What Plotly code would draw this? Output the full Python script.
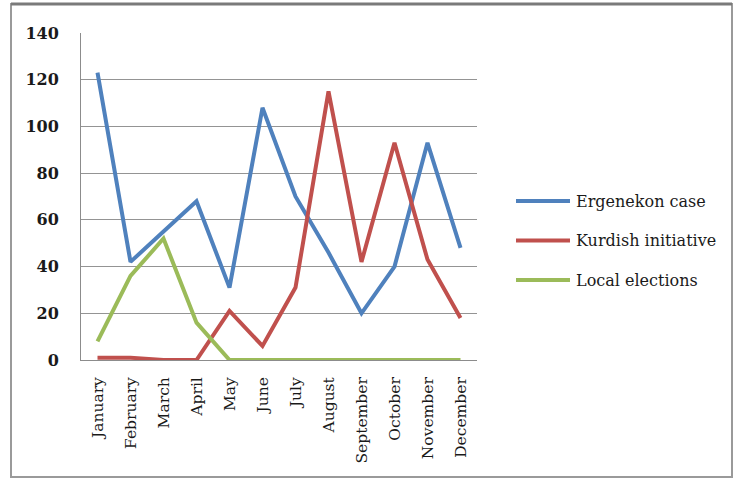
import plotly.graph_objects as go

months = ["January", "February", "March", "April", "May", "June", "July",
          "August", "September", "October", "November", "December"]
ergenekon = [123, 42, 55, 68, 31, 108, 70, 46, 20, 40, 93, 48]
kurdish = [1, 1, 0, 0, 21, 6, 31, 115, 42, 93, 43, 18]
local_elections = [8, 36, 52, 16, 0, 0, 0, 0, 0, 0, 0, 0]
series_names = ["Ergenekon case", "Kurdish initiative", "Local elections"]
series_colors = ["#4F81BD", "#C0504D", "#9BBB59"]
y_ticks = [0, 20, 40, 60, 80, 100, 120, 140]

W, H = 734, 479
ML, MR, MT, MB = 81, 257, 33, 119
PW, PH = W - ML - MR, H - MT - MB


def px_to_paper(x, y):
    return (x - ML) / PW, (H - MB - y) / PH


fig = go.Figure()
for name, vals, col in zip(series_names, [ergenekon, kurdish, local_elections], series_colors):
    fig.add_trace(go.Scatter(x=months, y=vals, mode="lines", name=name,
                             line=dict(color=col, width=4), showlegend=False))

shapes = []
annotations = []
# frame around the whole chart
x0, y0 = px_to_paper(11, 4)
x1, y1 = px_to_paper(732, 477)
shapes.append(dict(type="rect", xref="paper", yref="paper", x0=x0, y0=y1, x1=x1, y1=y0,
                   line=dict(color="#9a9a9a", width=2), layer="below"))
# heavier top edge of the frame
shapes.append(dict(type="line", xref="paper", yref="paper", x0=x0, x1=x1, y0=y0, y1=y0,
                   line=dict(color="#7a7a7a", width=3), layer="below"))

# legend entries
for i, (name, col) in enumerate(zip(series_names, series_colors)):
    cy = 201 + i * 39.5
    lx0, ly = px_to_paper(516, cy)
    lx1, _ = px_to_paper(570, cy)
    shapes.append(dict(type="line", xref="paper", yref="paper", x0=lx0, x1=lx1, y0=ly, y1=ly,
                       line=dict(color=col, width=4)))
    tx, _ = px_to_paper(574, cy)
    annotations.append(dict(text=name, xref="paper", yref="paper", x=tx, y=ly,
                            xanchor="left", yanchor="middle", showarrow=False,
                            font=dict(family="DejaVu Serif", size=16, color="#1a1a1a")))

fig.update_layout(
    width=W, height=H,
    margin=dict(l=ML, r=MR, t=MT, b=MB),
    paper_bgcolor="white", plot_bgcolor="white",
    shapes=shapes, annotations=annotations,
    showlegend=False,
)
fig.update_xaxes(
    type="category", range=[-0.5, 11.5], tickangle=-90,
    tickfont=dict(family="DejaVu Serif", size=15.5, color="#1a1a1a"),
    showline=True, linecolor="#8c8c8c", linewidth=1, showgrid=False,
    ticks="", ticklabelstandoff=10,
)
fig.update_yaxes(
    range=[0, 140], tickvals=y_ticks,
    tickfont=dict(family="DejaVu Serif", size=16, color="#1a1a1a", weight="bold"),
    showline=True, linecolor="#8c8c8c", linewidth=1,
    showgrid=True, gridcolor="#949494", gridwidth=1, zeroline=False,
    ticks="", ticklabelstandoff=18,
)

fig.write_html("out.html")
